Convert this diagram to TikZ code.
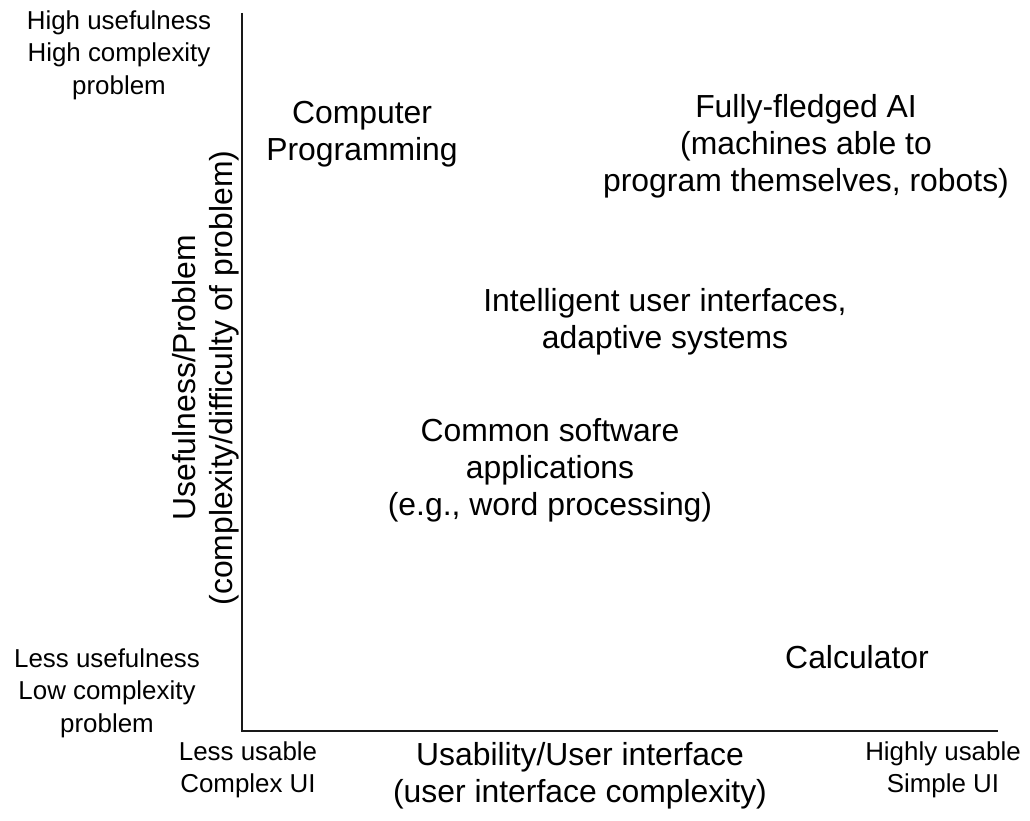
\documentclass[tikz,border=0pt]{standalone}
\usepackage{fontspec}
\setmainfont{Liberation Sans}
\usetikzlibrary{positioning,calc}

\tikzset{
  biglabel/.style={align=center, font=\fontsize{32}{37}\selectfont},
  smalllabel/.style={align=center, font=\fontsize{26}{32.5}\selectfont},
  axisline/.style={line width=2bp, black!90}
}

\begin{document}
\begin{tikzpicture}[x=1bp,y=-1bp]
        \useasboundingbox (0,0) rectangle (1030,821);

        % axes
        \coordinate (top) at (242,13);
        \coordinate (origin) at (242,731);
        \coordinate (right) at (998,731);
        \draw[axisline] (top) -- (origin) -- (right);

        % corner labels
        \node[smalllabel] (highuse) at (119,55) {High usefulness\\High complexity\\problem};
        \node[smalllabel] (lessuse) at (107,693) {Less usefulness\\Low complexity\\problem};
        \node[smalllabel] (lessusable) at (248,770) {Less usable\\Complex UI};
        \node[smalllabel] (highusable) at (943,770) {Highly usable\\Simple UI};

        % axis titles
        \node[biglabel] (xtitle) at (580,776) {Usability/User interface\\(user interface complexity)};
        \node[biglabel, rotate=90] (ytitle) at (206,378) {Usefulness/Problem\\(complexity/difficulty of problem)};

        % items in the plane
        \node[biglabel] (programming) at (362,134) {Computer\\Programming};
        \node[biglabel] (fullai) at (806,146) {Fully-fledged AI\\(machines able to\\program themselves, robots)};
        \node[biglabel] (intelligent) at (665,322) {Intelligent user interfaces,\\adaptive systems};
        \node[biglabel] (common) at (550,470) {Common software\\applications\\(e.g., word processing)};
        \node[biglabel] (calculator) at (857,657) {Calculator};
\end{tikzpicture}
\end{document}
